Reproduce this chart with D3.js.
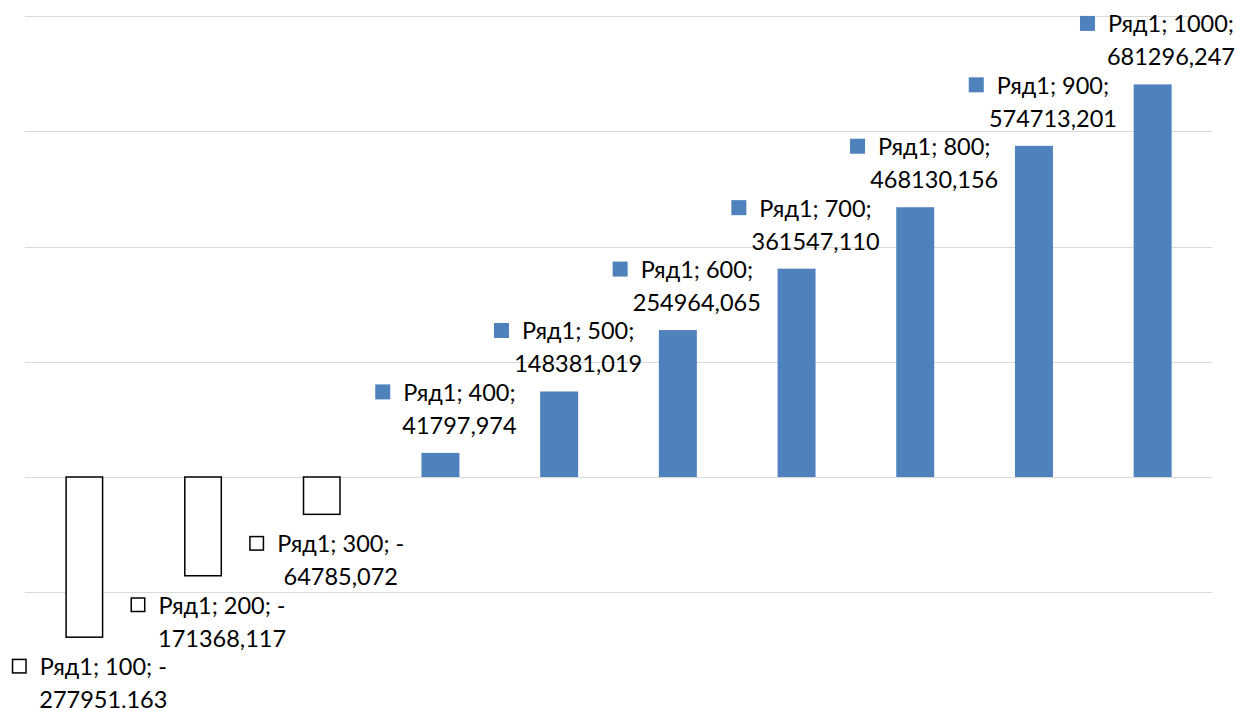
<!DOCTYPE html>
<html>
<head>
<meta charset="utf-8">
<script src="https://cdn.jsdelivr.net/npm/d3@7"></script>
<style>
  html, body { margin: 0; padding: 0; background: #fff; }
  svg { display: block; }
  .lbl { font-family: Lato, "Open Sans", sans-serif; font-size: 23.5px; fill: #000; }
</style>
</head>
<body>
<div id="chart"></div>
<script>
// Ряд1: категории и значения
const categories = [100, 200, 300, 400, 500, 600, 700, 800, 900, 1000];
const values = [-277951.163, -171368.117, -64785.072, 41797.974, 148381.019,
  254964.065, 361547.110, 468130.156, 574713.201, 681296.247];
const seriesName = 'Ряд1';
const yTicks = [-400000, -200000, 0, 200000, 400000, 600000, 800000];

const width = 1236, height = 708;
const plotLeft = 25, plotRight = 1212, plotTop = 16, plotBottom = 707.5;

const svg = d3.select('#chart').append('svg')
  .attr('width', width)
  .attr('height', height);

const x = d3.scaleBand()
  .domain(categories)
  .range([plotLeft, plotRight])
  .paddingInner(0.68)
  .paddingOuter(0.34);

const y = d3.scaleLinear()
  .domain([-400000, 800000])
  .range([plotBottom, plotTop]);

// сетка
svg.append('g')
  .selectAll('line')
  .data(yTicks)
  .join('line')
  .attr('x1', plotLeft).attr('x2', plotRight)
  .attr('y1', d => Math.round(y(d)) + 0.5)
  .attr('y2', d => Math.round(y(d)) + 0.5)
  .attr('stroke', '#d9d9d9')
  .attr('stroke-width', 1);

const data = categories.map((c, i) => ({ cat: c, value: values[i] }));
const blue = '#4f81bd';

// столбцы (отрицательные — инвертированы: белые с контуром)
svg.append('g')
  .selectAll('rect')
  .data(data)
  .join('rect')
  .attr('x', d => x(d.cat) + (d.value < 0 ? 0.75 : 0))
  .attr('width', d => x.bandwidth() - (d.value < 0 ? 1.5 : 0))
  .attr('y', d => y(Math.max(0, d.value)))
  .attr('height', d => Math.abs(y(d.value) - y(0)))
  .attr('fill', d => d.value < 0 ? '#fff' : blue)
  .attr('stroke', d => d.value < 0 ? '#000' : 'none')
  .attr('stroke-width', 1.5);

const fmt = v => Math.abs(v).toFixed(3).replace('.', ',');

// подписи данных с ключом легенды
const labels = svg.append('g')
  .selectAll('g')
  .data(data)
  .join('g');

labels.each(function(d) {
  const g = d3.select(this);
  const line1 = `${seriesName}; ${d.cat};` + (d.value < 0 ? ' -' : '');
  const line2 = fmt(d.value);
  const cx = x(d.cat) + x.bandwidth() / 2;
  const lineH = 33;
  const base1 = d.value < 0 ? y(d.value) + 38 : y(d.value) - 19 - lineH;

  const t1 = g.append('text').attr('class', 'lbl').attr('y', base1).text(line1);
  const t2 = g.append('text').attr('class', 'lbl').attr('y', base1 + lineH).text(line2);
  const w1 = t1.node().getComputedTextLength();
  const w2 = t2.node().getComputedTextLength();
  const tw = Math.max(w1, w2);
  const keyW = 15, gap = 13;
  let blockLeft = cx + 5 - (keyW + gap + tw) / 2;
  if (blockLeft + keyW + gap + tw > width - 1) blockLeft = width - 1 - (keyW + gap + tw);
  const textCenter = blockLeft + keyW + gap + tw / 2;
  t1.attr('x', textCenter).attr('text-anchor', 'middle');
  t2.attr('x', textCenter).attr('text-anchor', 'middle');
  const neg = d.value < 0;
  g.append('rect')
    .attr('x', textCenter - w1 / 2 - gap - keyW + (neg ? 0.75 : 0))
    .attr('y', base1 - 16.5 + (neg ? 0.75 : 0))
    .attr('width', keyW - (neg ? 1.5 : 0))
    .attr('height', keyW - (neg ? 1.5 : 0))
    .attr('fill', neg ? '#fff' : blue)
    .attr('stroke', neg ? '#000' : 'none')
    .attr('stroke-width', 1.5);
});
</script>
</body>
</html>
